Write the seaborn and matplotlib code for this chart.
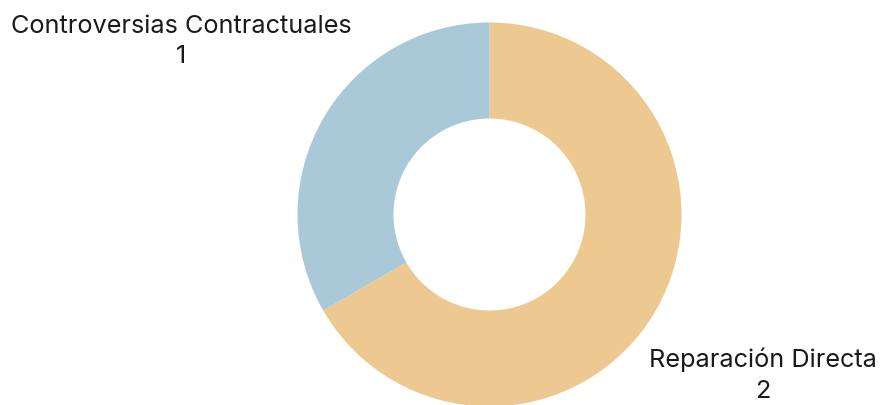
import matplotlib
matplotlib.use("Agg")
import matplotlib.pyplot as plt
import seaborn as sns

categories = ["Reparación Directa", "Controversias Contractuales"]
values = [2, 1]
colors = ["#EDC991", "#A9C9D9"]

sns.set_theme(style="white")
plt.rcParams['font.family'] = ['Inter', 'DejaVu Sans']

W, H = 882, 406
fig = plt.figure(figsize=(W / 100, H / 100), dpi=100)
ax = fig.add_axes([0, 0, 1, 1])

cx, cy, r = 489.5, H - 215.5, 192
ax.pie(values, colors=colors, startangle=90, counterclock=False,
       center=(cx, cy), radius=r, frame=True,
       wedgeprops=dict(width=r * 0.5, edgecolor='none'))
ax.set_xlim(0, W)
ax.set_ylim(0, H)
ax.set_aspect('equal')
ax.axis('off')

# label positions (pixel coords, top-origin baselines)
label_pos = {"Controversias Contractuales": (181, 33, 63),
             "Reparación Directa": (763, 367, 398)}
for name, val in zip(categories, values):
    x, b1, b2 = label_pos[name]
    ax.text(x, H - b1, name, ha='center', va='baseline', fontsize=18.2, color='#1a1a1a')
    ax.text(x, H - b2, str(val), ha='center', va='baseline', fontsize=18.2, color='#1a1a1a')

fig.savefig("out.png", dpi=100)
